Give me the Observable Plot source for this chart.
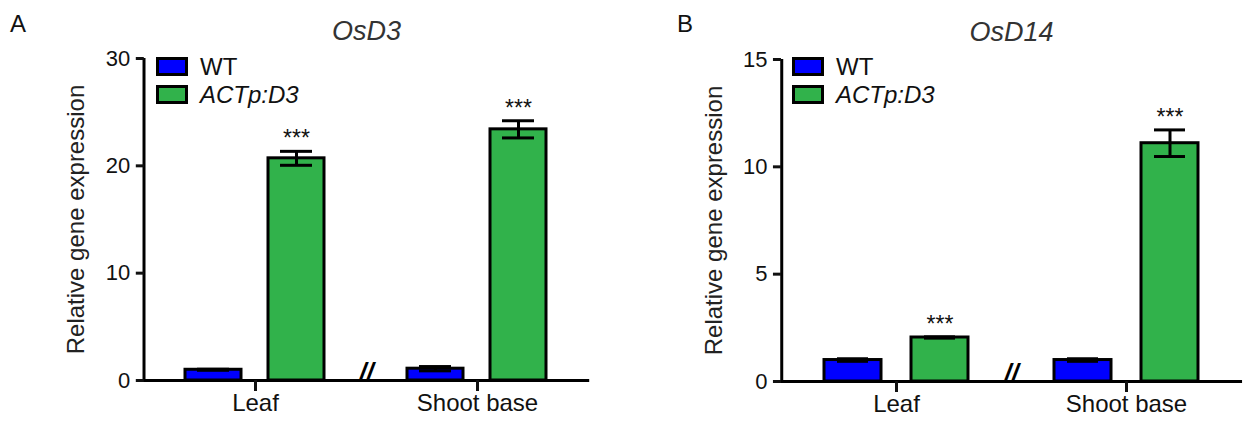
<!DOCTYPE html>
<html>
<head>
<meta charset="utf-8">
<script src="https://cdn.jsdelivr.net/npm/d3@7"></script>
<script src="https://cdn.jsdelivr.net/npm/@observablehq/plot@0.6"></script>
<style>
  html, body { margin: 0; padding: 0; background: white; }
  #wrap { position: relative; width: 1243px; height: 421px; overflow: hidden; font-family: "Liberation Sans", Arial, sans-serif; color: #111; }
  .panel { position: absolute; top: 0; }
  .letter { position: absolute; font-size: 24px; line-height: 24px; color: #111; }
  .legend { position: absolute; font-size: 24px; }
  .legend .row { display: flex; align-items: center; height: 19px; margin-bottom: 9px; }
  .legend .sw { width: 32px; height: 19px; box-sizing: border-box; border: 3px solid #000; margin-right: 12px; }
  .legend .lab { line-height: 19px; }
</style>
</head>
<body>
<div id="wrap"></div>
<script>
// ---- data ----
const tissues = ["Leaf", "Shoot base"];
const genotypes = ["WT", "ACTp:D3"];
const colors = ["#0000FF", "#31B24B"];
const yLabel = "Relative gene expression";

// Panel A: OsD3
const osd3WT = [1.0, 1.1];
const osd3WTsd = [0.05, 0.2];
const osd3ACT = [20.7, 23.4];
const osd3ACTsd = [0.65, 0.8];
const osd3Sig = ["***", "***"];
const osd3Ticks = [0, 10, 20, 30];

// Panel B: OsD14
const osd14WT = [1.0, 1.0];
const osd14WTsd = [0.06, 0.06];
const osd14ACT = [2.05, 11.1];
const osd14ACTsd = [0.03, 0.62];
const osd14Sig = ["***", "***"];
const osd14Ticks = [0, 5, 10, 15];

function rows(wt, wtsd, act, actsd, sig) {
  const out = [];
  tissues.forEach((t, i) => {
    out.push({tissue: t, genotype: genotypes[0], mean: wt[i], sd: wtsd[i], sig: ""});
    out.push({tissue: t, genotype: genotypes[1], mean: act[i], sd: actsd[i], sig: sig[i]});
  });
  return out;
}

function panel(o) {
  const data = o.data;
  const yMax = o.ticks[o.ticks.length - 1];
  const frameW = o.width - o.marginLeft - o.marginRight;
  const step = frameW / 2;          // fx band step (paddingOuter = paddingInner / 2)
  const ext = step * 0.1;           // distance from frame edge to first facet
  const xStep = (step * 0.8) / (2 - o.xPadInner + 2 * o.xPadOuter);
  const wtOff = ext + xStep * (o.xPadOuter + (1 - o.xPadInner) / 2); // frame left -> first band centre
  return Plot.plot({
    width: o.width, height: 421,
    marginLeft: o.marginLeft, marginRight: o.marginRight,
    marginTop: o.marginTop, marginBottom: o.marginBottom,
    style: {fontFamily: "'Liberation Sans', Arial, sans-serif", fontSize: "22px", color: "#111", background: "white", overflow: "visible"},
    fx: {domain: tissues, paddingInner: 0.2, paddingOuter: 0.1, label: null, axis: null},
    x: {domain: genotypes, paddingInner: o.xPadInner, paddingOuter: o.xPadOuter, axis: null},
    y: {domain: [0, yMax], axis: null},
    color: {domain: genotypes, range: colors},
    marks: [
      Plot.barY(data, {fx: "tissue", x: "genotype", y: "mean", fill: "genotype", stroke: "#000", strokeWidth: 3}),
      Plot.ruleX(data, {fx: "tissue", x: "genotype", y1: d => d.mean - d.sd, y2: d => d.mean + d.sd, stroke: "#000", strokeWidth: 3}),
      Plot.tickY(data, {fx: "tissue", x: "genotype", y: d => d.mean + d.sd, stroke: "#000", strokeWidth: 3, insetLeft: o.capInset, insetRight: o.capInset}),
      Plot.tickY(data, {fx: "tissue", x: "genotype", y: d => d.mean - d.sd, stroke: "#000", strokeWidth: 3, insetLeft: o.capInset, insetRight: o.capInset}),
      Plot.text(data.filter(d => d.sig), {fx: "tissue", x: "genotype", y: d => d.mean + d.sd, text: "sig", dy: -5, lineAnchor: "bottom", fontSize: 23, fill: "#111"}),
      // x axis line spanning both facets
      Plot.ruleY(tissues, {fx: d => d, y: () => 0, stroke: "#000", strokeWidth: 3, insetLeft: -(ext + 1), insetRight: -(ext + 1)}),
      // y axis line (first facet, shifted to the frame's left edge)
      Plot.ruleX([genotypes[0]], {fx: () => tissues[0], x: d => d, y1: () => 0, y2: () => yMax, dx: -wtOff, stroke: "#000", strokeWidth: 3}),
      Plot.text(["//"], {facet: "super", frameAnchor: "bottom", fontSize: 26, fontWeight: "bold", fontStyle: "italic", fill: "#000"}),
      Plot.axisY({ticks: o.ticks, tickSize: 8, tickPadding: 6, strokeWidth: 3, fontSize: 22, dx: -ext, label: null}),
      Plot.axisFx({anchor: "bottom", tickSize: 11, tickPadding: 2, strokeWidth: 3, fontSize: 24, label: null}),
      Plot.text([yLabel], {facet: "super", frameAnchor: "left", textAnchor: "middle", lineAnchor: "middle", rotate: -90, dx: -90, fontSize: 24, fill: "#222"}),
      Plot.text([o.title], {facet: "super", frameAnchor: "top", lineAnchor: "middle", dy: -27, fontSize: 27, fontStyle: "italic", fill: "#333"})
    ]
  });
}

const wrap = document.getElementById("wrap");

function addPanel(left, chart, letter, legendLeft) {
  const div = document.createElement("div");
  div.className = "panel";
  div.style.left = left + "px";
  div.appendChild(chart);
  wrap.appendChild(div);
  const L = document.createElement("div");
  L.className = "letter";
  L.textContent = letter.text;
  L.style.left = letter.left + "px";
  L.style.top = "12px";
  wrap.appendChild(L);
  const leg = document.createElement("div");
  leg.className = "legend";
  leg.style.left = legendLeft + "px";
  leg.style.top = "57px";
  genotypes.forEach((g, i) => {
    const r = document.createElement("div");
    r.className = "row";
    const sw = document.createElement("div");
    sw.className = "sw";
    sw.style.background = colors[i];
    const lab = document.createElement("div");
    lab.className = "lab";
    lab.textContent = g;
    if (i === 1) lab.style.fontStyle = "italic";
    r.appendChild(sw); r.appendChild(lab);
    leg.appendChild(r);
  });
  wrap.appendChild(leg);
}

const chartA = panel({
  data: rows(osd3WT, osd3WTsd, osd3ACT, osd3ACTsd, osd3Sig),
  ticks: osd3Ticks, title: "OsD3", width: 621,
  marginLeft: 144, marginRight: 33, marginTop: 58, marginBottom: 41,
  xPadInner: 0.325, xPadOuter: 0.232, capInset: 12
});
const chartB = panel({
  data: rows(osd14WT, osd14WTsd, osd14ACT, osd14ACTsd, osd14Sig),
  ticks: osd14Ticks, title: "OsD14", width: 622,
  marginLeft: 159, marginRight: 2, marginTop: 59, marginBottom: 40,
  xPadInner: 0.34, xPadOuter: 0.218, capInset: 13
});

addPanel(0, chartA, {text: "A", left: 10}, 156);
addPanel(621, chartB, {text: "B", left: 677}, 792);
</script>
</body>
</html>
